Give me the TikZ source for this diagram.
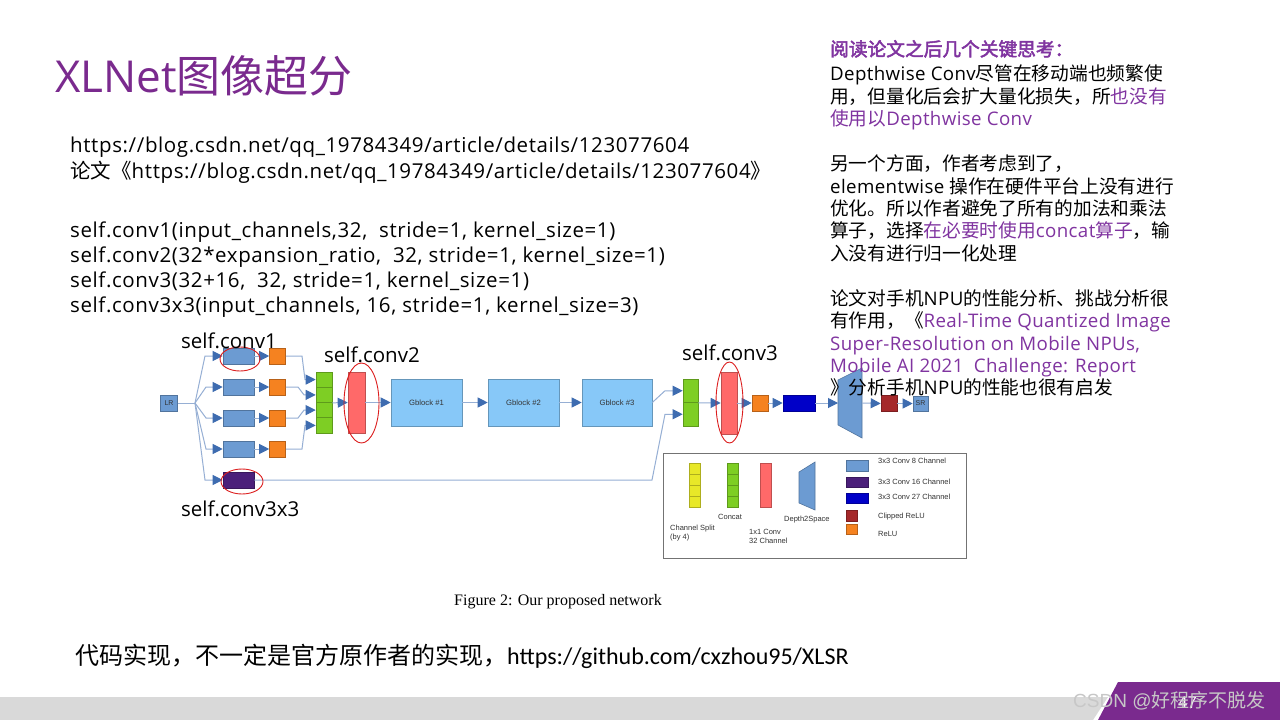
\documentclass[tikz,border=0pt]{standalone}
\usepackage{fontspec}
\setmainfont{Open Sans}
\newfontfamily\wideos[LetterSpace=3]{Open Sans}
\newfontfamily\midos[LetterSpace=2]{Open Sans}
\newfontfamily\cjk{Noto Sans CJK SC}
\newfontfamily\cjkb[FakeBold=2.5]{Noto Sans CJK SC}
\newfontfamily\arialf{Liberation Sans}
\newfontfamily\timesf{Liberation Serif}
\newfontfamily\calif{Carlito}
\usetikzlibrary{arrows.meta}
\newcommand\zh[1]{{\cjk #1}}
\definecolor{ppt}{RGB}{122,42,142}
\definecolor{pptl}{RGB}{128,52,160}
\definecolor{c8}{RGB}{108,155,210}
\definecolor{org}{RGB}{245,130,32}
\definecolor{grn}{RGB}{126,206,36}
\definecolor{rd}{RGB}{255,105,105}
\definecolor{gb}{RGB}{135,200,248}
\definecolor{pu}{RGB}{75,31,122}
\definecolor{bl}{RGB}{0,0,200}
\definecolor{drd}{RGB}{165,40,42}
\definecolor{yel}{RGB}{232,232,40}
\definecolor{lnc}{RGB}{150,175,212}
\definecolor{arc}{RGB}{62,108,176}
\definecolor{ell}{RGB}{220,30,30}
\begin{document}
\begin{tikzpicture}[x=1pt,y=-1pt,
  bodytxt/.style={anchor=base west,inner sep=0pt,font=\wideos\fontsize{20.5}{24}\selectfont},
  sidetxt/.style={anchor=base west,inner sep=0pt,font=\midos\fontsize{18.7}{22}\selectfont},
  lbl/.style={anchor=base west,inner sep=0pt,font=\fontsize{20.5}{24}\selectfont},
  blk/.style={draw=#1!75!black,fill=#1,line width=0.6pt,inner sep=0pt,minimum width=16pt,minimum height=16pt},
  arr/.style={draw=lnc,line width=1pt,-{Triangle[length=10pt,width=10pt,color=arc]}},
  ln/.style={draw=lnc,line width=1pt},
  redel/.style={draw=ell,line width=0.9pt},
  legtxt/.style={anchor=west,inner sep=0pt,font=\arialf\fontsize{7.5}{9}\selectfont,text=black!80,align=left},
  tiny/.style={font=\arialf\fontsize{7}{8}\selectfont,text=black!80},
  gbtxt/.style={font=\arialf\fontsize{7.7}{9}\selectfont,text=black!80}
]
\useasboundingbox (0,0) rectangle (1280,720);
\fill[white] (0,0) rectangle (1280,720);

% title
\node[anchor=base west,inner sep=0pt,text=ppt,font=\fontsize{44}{50}\selectfont] (title) at (55,92) {XLNet\zh{图像超分}};

% left text
\node[bodytxt] (t1) at (70,152) {https://blog.csdn.net/qq\_19784349/article/details/123077604};
\node[bodytxt] (t2) at (70,178) {\zh{论文《}https://blog.csdn.net/qq\_19784349/article/details/123077604\zh{》}};
\node[bodytxt] (t3) at (70,237) {self.conv1(input\_channels,32,\ \ stride=1, kernel\_size=1)};
\node[bodytxt] (t4) at (70,262) {self.conv2(32*expansion\_ratio,\ \ 32, stride=1, kernel\_size=1)};
\node[bodytxt] (t5) at (70,287) {self.conv3(32+16,\ \ 32, stride=1, kernel\_size=1)};
\node[bodytxt] (t6) at (70,312) {self.conv3x3(input\_channels, 16, stride=1, kernel\_size=3)};

% ---------------- network diagram ----------------
\node[blk=c8,minimum width=17pt,tiny] (LR) at (169,403) {LR};
\coordinate (sp) at (195,403);
\foreach \i/\yy in {1/356,2/387,3/418,4/449}{
  \node[blk=c8,minimum width=31pt] (c\i) at (238.5,\yy) {};
  \node[blk=org] (o\i) at (277.5,\yy) {};
}
\node[blk=pu,minimum width=31pt] (p16) at (238.5,480) {};
\foreach \i/\yy in {1/379.6,2/394.9,3/410.1,4/425.4}{
  \node[blk=grn,minimum width=16pt,minimum height=15.25pt] (k\i) at (324,\yy) {};
}
\node[blk=rd,minimum width=17pt,minimum height=61pt] (r2) at (356.5,402.5) {};
\node[blk=gb,minimum width=71pt,minimum height=47pt,gbtxt] (g1) at (426.5,402.5) {Gblock \#1};
\node[blk=gb,minimum width=71pt,minimum height=47pt,gbtxt] (g2) at (523.5,402.5) {Gblock \#2};
\node[blk=gb,minimum width=70pt,minimum height=47pt,gbtxt] (g3) at (617,402.5) {Gblock \#3};
\node[blk=grn,minimum width=15pt,minimum height=23.5pt] (m1) at (690.5,390.75) {};
\node[blk=grn,minimum width=15pt,minimum height=23.5pt] (m2) at (690.5,414.25) {};
\node[blk=rd,minimum width=16pt,minimum height=62pt] (r3) at (729,403) {};
\node[blk=org] (o5) at (760,403) {};
\node[blk=bl,minimum width=32pt] (b27) at (799,403) {};
\fill[c8,draw=c8!75!black,line width=0.6pt] (838,380) -- (862,368) -- (862,438) -- (838,425) -- cycle;
\coordinate (d2sL) at (838,403);
\coordinate (d2sR) at (862,403);
\node[blk=drd] (dr) at (889,403.5) {};
\node[blk=c8,minimum width=15pt,minimum height=15pt,tiny] (SR) at (920.5,403.5) {SR};

% connectors
\draw[ln] (LR.east) -- (sp);
\draw[arr] (sp) -- (205,356) -- (c1.west);
\draw[arr] (sp) -- (206,387) -- (c2.west);
\draw[arr] (sp) -- (206,418) -- (c3.west);
\draw[arr] (sp) -- (206,449) -- (c4.west);
\draw[arr] (sp) -- (205,480) -- (p16.west);
\foreach \i in {1,2,3,4}{ \draw[arr] (c\i.east) -- (o\i.west); }
\draw[arr] (o1.east) -- (302,356) -- (305,379.6) -- (k1.west);
\draw[arr] (o2.east) -- (298,387) -- (304,394.9) -- (k2.west);
\draw[arr] (o3.east) -- (298,418) -- (304,410.1) -- (k3.west);
\draw[arr] (o4.east) -- (302,449) -- (305,425.4) -- (k4.west);
\draw[arr] (k2.south east) -- (r2.west);
\draw[arr] (r2.east) -- (g1.west);
\draw[arr] (g1.east) -- (g2.west);
\draw[arr] (g2.east) -- (g3.west);
\draw[arr] (g3.east) -- (665,390.75) -- (m1.west);
\draw[arr] (p16.east) -- (652,480) -- (665,414.25) -- (m2.west);
\draw[arr] (m1.south east) -- (r3.west);
\draw[arr] (r3.east) -- (o5.west);
\draw[arr] (o5.east) -- (b27.west);
\draw[arr] (b27.east) -- (d2sL);
\draw[arr] (d2sR) -- (dr.west);
\draw[arr] (dr.east) -- (SR.west);

% red ellipses
\draw[redel] (240,359) ellipse [x radius=20,y radius=12];
\draw[redel] (361.5,403) ellipse [x radius=17.5,y radius=40];
\draw[redel] (242,481.5) ellipse [x radius=21,y radius=12.5];
\draw[redel] (729.5,402.5) ellipse [x radius=13.5,y radius=40.5];

% labels
\node[lbl] (l1) at (181,348) {self.conv1};
\node[lbl] (l2) at (324,362) {self.conv2};
\node[lbl] (l3) at (682,360) {self.conv3};
\node[lbl] (l4) at (181,516) {self.conv3x3};

% legend
\node[draw=black!55,line width=0.8pt,minimum width=303pt,minimum height=105pt,inner sep=0pt] (leg) at (814.5,505.5) {};
\foreach \i/\yy in {1/468.5,2/479.5,3/490.5,4/501.5}{
  \node[blk=yel,minimum width=11pt,minimum height=11pt] (ly\i) at (694.5,\yy) {};
  \node[blk=grn,minimum width=11pt,minimum height=11pt] (lg\i) at (732.5,\yy) {};
}
\node[blk=rd,minimum width=11pt,minimum height=44pt] (lr) at (765.5,485) {};
\fill[c8,draw=c8!75!black,line width=0.6pt] (799,472) -- (815,462) -- (815,510) -- (799,503) -- cycle;
\node[blk=c8,minimum width=22pt,minimum height=11pt] (lb8) at (857,465.5) {};
\node[blk=pu,minimum width=22pt,minimum height=10pt] (lb16) at (857,482) {};
\node[blk=bl,minimum width=22pt,minimum height=10pt] (lb27) at (857,498) {};
\node[blk=drd,minimum width=11pt,minimum height=11pt] (ldr) at (851.5,515.5) {};
\node[blk=org,minimum width=11pt,minimum height=10pt] (lor) at (851.5,529) {};
\node[legtxt] (tx8) at (878,461) {3x3 Conv 8 Channel};
\node[legtxt] (tx16) at (878,481.5) {3x3 Conv 16 Channel};
\node[legtxt] (tx27) at (878,497) {3x3 Conv 27 Channel};
\node[legtxt] (txcr) at (878,517) {Clipped ReLU};
\node[legtxt] (txr) at (878,534) {ReLU};
\node[legtxt] (txcs) at (670,533.5) {Channel Split\\(by 4)};
\node[legtxt] (txcc) at (718,517) {Concat};
\node[legtxt] (tx11) at (749,536.5) {1x1 Conv\\32 Channel};
\node[legtxt] (txds) at (784,520) {Depth2Space};

% caption
\node[anchor=base,inner sep=0pt,font=\timesf\fontsize{16}{18}\selectfont] (cap) at (558,605) {Figure 2: Our proposed network};

% right column
\node[anchor=base west,inner sep=0pt,text=pptl,font=\fontsize{18.7}{22}\selectfont] (s1) at (830,56) {{\cjkb 阅读论文之后几个关键思考：}};
\node[sidetxt] (s2) at (830,80) {Depthwise Conv\zh{尽管在移动端也频繁使}};
\node[sidetxt] (s3) at (830,103) {\zh{用，但量化后会扩大量化损失，所}\textcolor{pptl}{\zh{也没有}}};
\node[sidetxt,text=pptl] (s4) at (830,125) {\zh{使用以}Depthwise Conv};
\node[sidetxt] (s5) at (830,170) {\zh{另一个方面，作者考虑到了，}};
\node[sidetxt] (s6) at (830,193) {elementwise \zh{操作在硬件平台上没有进行}};
\node[sidetxt] (s7) at (830,215) {\zh{优化。所以作者避免了所有的加法和乘法}};
\node[sidetxt] (s8) at (830,237) {\zh{算子，选择}\textcolor{pptl}{\zh{在必要时使用}concat\zh{算子}}\zh{，输}};
\node[sidetxt] (s9) at (830,260) {\zh{入没有进行归一化处理}};
\node[sidetxt] (s10) at (830,305) {\zh{论文对手机}NPU\zh{的性能分析、挑战分析很}};
\node[sidetxt] (s11) at (830,327) {\zh{有作用，《}\textcolor{pptl}{Real-Time Quantized Image}};
\node[sidetxt,text=pptl] (s12) at (830,350) {Super-Resolution on Mobile NPUs,};
\node[sidetxt,text=pptl] (s13) at (830,372) {Mobile AI 2021\ \ Challenge: Report};
\node[sidetxt] (s14) at (830,394) {\zh{》分析手机}NPU\zh{的性能也很有启发}};

% bottom line
\node[anchor=base west,inner sep=0pt,font=\fontsize{24}{28}\selectfont] (bt) at (75,664) {\zh{代码实现，不一定是官方原作者的实现，}{\calif https://github.com/cxzhou95/XLSR}};

% footer
\fill[black!15] (0,697) -- (1108,697) -- (1093,720) -- (0,720) -- cycle;
\fill[ppt] (1118,682) -- (1280,682) -- (1280,720) -- (1098,720) -- cycle;
\node[anchor=base west,inner sep=0pt,text=white,font=\arialf\fontsize{17}{20}\selectfont] (pg) at (1178,708) {47};
\node[anchor=base west,inner sep=0pt,text=black!22,font=\arialf\fontsize{19}{22}\selectfont] (wm) at (1073,707) {CSDN @\zh{好程序不脱发}};
\end{tikzpicture}
\end{document}
